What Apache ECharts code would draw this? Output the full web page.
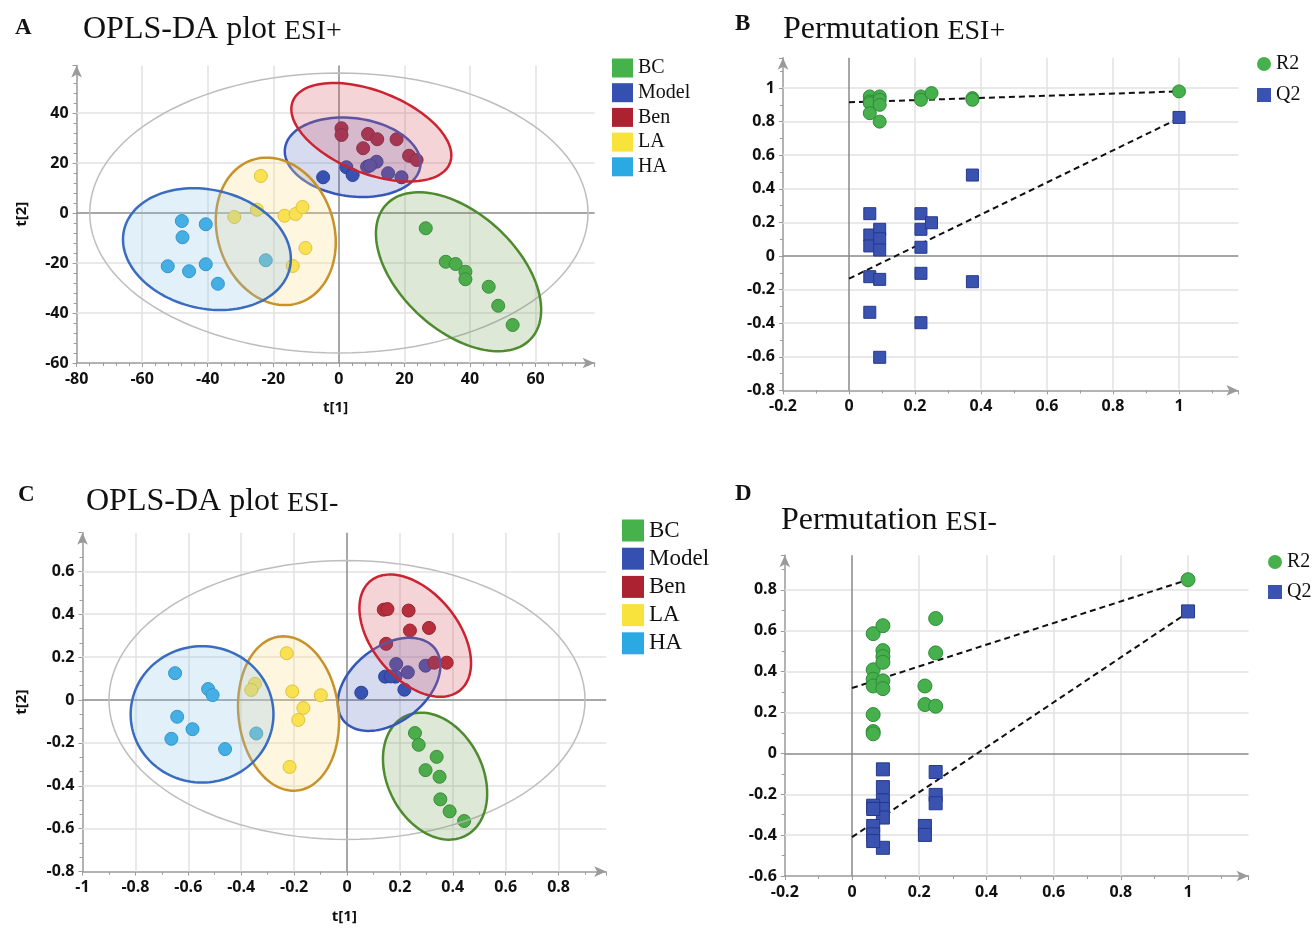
<!DOCTYPE html>
<html>
<head>
<meta charset="utf-8">
<script src="https://cdn.jsdelivr.net/npm/echarts@6/dist/echarts.min.js"></script>
<style>
html,body{margin:0;padding:0;background:#fff;}
#main{width:1315px;height:928px;}
</style>
</head>
<body>
<div id="main"></div>
<script>
// ---------------- DATA ----------------
const groups = ['BC', 'Model', 'Ben', 'LA', 'HA'];
const groupColors = ['#45b24c', '#3550b0', '#ad2230', '#f8e23c', '#2ba9e2'];
const groupBorders = ['#2f8a38', '#23388a', '#7e1520', '#d2b81e', '#1a86bd'];

// Panel A (OPLS-DA ESI+) scores t[1], t[2]
const aBC = [[26.5,-6.1],[32.6,-19.5],[35.6,-20.4],[38.6,-23.5],[38.6,-26.5],[45.7,-29.5],[48.6,-37.1],[53.0,-44.8]];
const aModel = [[-4.8,14.3],[2.3,18.3],[4.2,15.2],[8.6,18.5],[11.5,20.5],[15.0,15.9],[19.1,14.3],[9.5,19.0]];
const aBen = [[0.8,33.9],[0.8,31.2],[8.9,31.6],[11.7,29.5],[17.6,29.5],[7.4,25.9],[21.4,22.9],[23.7,21.2]];
const aLA = [[-23.8,14.8],[-25.0,1.3],[-31.9,-1.6],[-16.6,-1.1],[-13.2,-0.4],[-11.1,2.4],[-10.2,-14.0],[-14.1,-21.2]];
const aHA = [[-47.9,-3.2],[-40.6,-4.5],[-47.7,-9.7],[-52.2,-21.3],[-45.7,-23.3],[-40.6,-20.5],[-36.9,-28.3],[-22.3,-18.9]];
// confidence ellipses: [centre x, centre y, half-width x, half-height y, tilt correlation]
const aEllipses = [[36.5,-23.5,25.2,31.8,-0.48],[4.2,22.3,20.7,15.9,-0.15],[9.9,32.3,24.4,19.7,-0.47],[-19.25,-7.35,18.3,29.5,-0.15],[-40.25,-14.45,25.6,24.35,-0.16]];
const aHotelling = [0, 0, 76, 56, 0];
const aXTicks = [-80,-60,-40,-20,0,20,40,60];
const aYTicks = [-60,-40,-20,0,20,40];

// Panel B (Permutation ESI+)
const bR2 = [[0.063,0.95],[0.063,0.92],[0.063,0.91],[0.063,0.85],[0.093,0.95],[0.093,0.93],[0.093,0.90],[0.093,0.80],[0.218,0.95],[0.218,0.93],[0.25,0.97],[0.374,0.94],[0.374,0.93],[1,0.98]];
const bQ2 = [[0.063,0.252],[0.063,0.125],[0.063,0.06],[0.093,0.159],[0.093,0.103],[0.093,0.036],[0.063,-0.123],[0.093,-0.139],[0.063,-0.335],[0.093,-0.603],[0.218,0.252],[0.218,0.159],[0.25,0.198],[0.218,0.052],[0.218,-0.103],[0.218,-0.397],[0.374,0.482],[0.374,-0.153],[1,0.825]];
const bR2Fit = [[0,0.915],[1,0.98]];
const bQ2Fit = [[0,-0.135],[1,0.82]];
const bXTicks = [-0.2,0,0.2,0.4,0.6,0.8,1];
const bYTicks = [-0.8,-0.6,-0.4,-0.2,0,0.2,0.4,0.6,0.8,1];

// Panel C (OPLS-DA ESI-)
const cBC = [[0.257,-0.154],[0.271,-0.209],[0.339,-0.265],[0.297,-0.327],[0.35,-0.358],[0.353,-0.463],[0.388,-0.519],[0.443,-0.564]];
const cModel = [[0.054,0.034],[0.144,0.109],[0.183,0.109],[0.217,0.048],[0.186,0.168],[0.23,0.129],[0.297,0.16],[0.165,0.11]];
const cBen = [[0.139,0.421],[0.153,0.424],[0.233,0.417],[0.238,0.324],[0.31,0.336],[0.148,0.262],[0.33,0.174],[0.377,0.174]];
const cLA = [[-0.228,0.218],[-0.348,0.075],[-0.362,0.047],[-0.207,0.04],[-0.099,0.022],[-0.165,-0.037],[-0.184,-0.093],[-0.217,-0.312]];
const cHA = [[-0.65,0.125],[-0.525,0.051],[-0.508,0.023],[-0.642,-0.078],[-0.584,-0.136],[-0.664,-0.181],[-0.461,-0.229],[-0.343,-0.156]];
const cEllipses = [[0.333,-0.355,0.197,0.296,-0.27],[0.159,0.073,0.194,0.217,0.4],[0.258,0.30,0.211,0.285,-0.45],[-0.221,-0.063,0.191,0.36,-0.1],[-0.548,-0.067,0.27,0.318,0.0]];
const cHotelling = [0, 0, 0.9, 0.65, 0];
const cXTicks = [-1,-0.8,-0.6,-0.4,-0.2,0,0.2,0.4,0.6,0.8];
const cYTicks = [-0.8,-0.6,-0.4,-0.2,0,0.2,0.4,0.6];

// Panel D (Permutation ESI-)
const dR2 = [[0.063,0.586],[0.063,0.409],[0.063,0.363],[0.063,0.33],[0.063,0.19],[0.063,0.107],[0.063,0.096],[0.092,0.625],[0.092,0.503],[0.092,0.474],[0.092,0.446],[0.092,0.355],[0.092,0.317],[0.217,0.33],[0.217,0.239],[0.249,0.66],[0.249,0.492],[0.249,0.231],[1,0.85]];
const dQ2 = [[0.092,-0.078],[0.092,-0.165],[0.092,-0.231],[0.092,-0.272],[0.092,-0.314],[0.092,-0.462],[0.063,-0.256],[0.063,-0.272],[0.063,-0.355],[0.063,-0.396],[0.063,-0.429],[0.217,-0.355],[0.217,-0.399],[0.249,-0.091],[0.249,-0.203],[0.249,-0.244],[1,0.695]];
const dR2Fit = [[0,0.32],[1,0.85]];
const dQ2Fit = [[0,-0.41],[1,0.69]];
const dXTicks = [-0.2,0,0.2,0.4,0.6,0.8,1];
const dYTicks = [-0.6,-0.4,-0.2,0,0.2,0.4,0.6,0.8];

// ---------------- STYLE ----------------
const ellStroke = ['#4e8a2e', '#3656b8', '#cc2331', '#c8922a', '#3a6cc0'];
const ellFill = ['rgba(105,150,75,0.22)', 'rgba(70,90,185,0.22)', 'rgba(215,85,95,0.25)', 'rgba(252,222,140,0.28)', 'rgba(140,195,235,0.25)'];
const SANS = "'Open Sans', 'DejaVu Sans', sans-serif";
const SERIF = "'Liberation Serif', 'Times New Roman', serif";
const LABEL_SIZE = 16;

function inTicks(ticks, v) {
  for (const t of ticks) if (Math.abs(t - v) < 1e-6) return true;
  return false;
}
function axisDef(isY, idx, min, max, interval, ticks, minorSplit, name, nameGap) {
  const ax = {
    gridIndex: idx, type: 'value', min: min, max: max, interval: interval,
    name: name || '', nameLocation: 'middle', nameGap: nameGap || 30,
    nameTextStyle: { fontFamily: SANS, fontWeight: 'bold', fontSize: 15, color: '#111' },
    axisLine: { show: true, onZero: false, symbol: ['none', 'arrow'], symbolSize: [8, 12], lineStyle: { color: '#9a9a9a', width: 1.5 } },
    axisTick: { show: true, length: 4, inside: false, lineStyle: { color: '#9a9a9a' } },
    minorTick: { show: true, splitNumber: minorSplit, length: 3, lineStyle: { color: '#9a9a9a' } },
    splitLine: { show: false },
    axisLabel: { fontFamily: SANS, fontWeight: 'bold', fontSize: LABEL_SIZE, color: '#111', margin: 8, showMaxLabel: false,
      formatter: function (v) { return inTicks(ticks, v) ? String(+v.toFixed(2)) : ''; } }
  };
  if (isY) ax.nameRotate = 90;
  return ax;
}
function gridSeries(idx, xs, ys) {
  const lines = [];
  xs.forEach(function (v) { if (Math.abs(v) > 1e-9) lines.push({ xAxis: v, lineStyle: { color: '#e2e2e2', width: 1.5, type: 'solid' } }); });
  ys.forEach(function (v) { if (Math.abs(v) > 1e-9) lines.push({ yAxis: v, lineStyle: { color: '#e2e2e2', width: 1.5, type: 'solid' } }); });
  lines.push({ xAxis: 0, lineStyle: { color: '#8a8a8a', width: 1.5, type: 'solid' } });
  lines.push({ yAxis: 0, lineStyle: { color: '#8a8a8a', width: 1.5, type: 'solid' } });
  return {
    type: 'line', xAxisIndex: idx, yAxisIndex: idx, data: [], silent: true, z: 1,
    markLine: { z: 1, silent: true, symbol: ['none', 'none'], label: { show: false }, animation: false, data: lines }
  };
}
function ellipseSeries(idx, e, stroke, fill, width) {
  return {
    type: 'custom', xAxisIndex: idx, yAxisIndex: idx, silent: true, z: 4, data: [e],
    dimensions: ['cx', 'cy', 'rx', 'ry', 'rho'], encode: { x: 0, y: 1 },
    renderItem: function (params, api) {
      const cx = api.value(0), cy = api.value(1), rx = api.value(2), ry = api.value(3), r = api.value(4);
      const s = Math.sqrt(1 - r * r);
      const pts = [];
      for (let k = 0; k < 120; k++) {
        const t = 2 * Math.PI * k / 120;
        pts.push(api.coord([cx + rx * Math.cos(t), cy + ry * (r * Math.cos(t) + s * Math.sin(t))]));
      }
      return { type: 'polygon', shape: { points: pts }, style: { fill: fill, stroke: stroke, lineWidth: width } };
    }
  };
}
function scatterSeries(idx, name, data, color, border, symbol, size) {
  return {
    type: 'scatter', name: name, xAxisIndex: idx, yAxisIndex: idx, data: data, z: 3,
    symbol: symbol || 'circle', symbolSize: size || 13,
    itemStyle: { color: color, borderColor: border, borderWidth: 1, opacity: 1 }
  };
}
function fitSeries(idx, data) {
  return {
    type: 'line', xAxisIndex: idx, yAxisIndex: idx, data: data, z: 2, silent: true, symbol: 'none',
    lineStyle: { color: '#111', width: 2, type: [6, 4] }
  };
}

const series = [];
series.push(gridSeries(0, aXTicks.slice(1), aYTicks.slice(1)));
series.push(gridSeries(1, bXTicks.slice(1), bYTicks.slice(1)));
series.push(gridSeries(2, cXTicks.slice(1), cYTicks.slice(1)));
series.push(gridSeries(3, dXTicks.slice(1), dYTicks.slice(1)));

const aData = [aBC, aModel, aBen, aLA, aHA];
const cData = [cBC, cModel, cBen, cLA, cHA];
groups.forEach(function (g, i) {
  series.push(scatterSeries(0, g, aData[i], groupColors[i], groupBorders[i]));
  series.push(scatterSeries(2, g, cData[i], groupColors[i], groupBorders[i]));
});
series.push(ellipseSeries(0, aHotelling, '#bdbdbd', 'none', 1.5));
series.push(ellipseSeries(2, cHotelling, '#bdbdbd', 'none', 1.5));
groups.forEach(function (g, i) {
  series.push(ellipseSeries(0, aEllipses[i], ellStroke[i], ellFill[i], 2.5));
  series.push(ellipseSeries(2, cEllipses[i], ellStroke[i], ellFill[i], 2.5));
});

series.push(fitSeries(1, bR2Fit));
series.push(fitSeries(1, bQ2Fit));
series.push(fitSeries(3, dR2Fit));
series.push(fitSeries(3, dQ2Fit));
series.push(scatterSeries(1, 'R2', bR2, '#46b04c', '#2f8a38', 'circle', 13));
series.push(scatterSeries(1, 'Q2', bQ2, '#3a52b0', '#26398a', 'rect', 12));
series.push(scatterSeries(3, 'R2', dR2, '#46b04c', '#2f8a38', 'circle', 14));
series.push(scatterSeries(3, 'Q2', dQ2, '#3a52b0', '#26398a', 'rect', 13));

function titleDef(left, top, letter, main, sub) {
  return [
    { left: left[0], top: top[0], text: letter, textStyle: { fontFamily: SERIF, fontWeight: 'bold', fontSize: 23, color: '#111' } },
    { left: left[1], top: top[1], text: '{m|' + main + '}{s|' + sub + '}',
      textStyle: { fontWeight: 'normal', rich: {
        m: { fontFamily: SERIF, fontWeight: 'normal', fontSize: 32, color: '#111' },
        s: { fontFamily: SERIF, fontWeight: 'normal', fontSize: 28, color: '#111', verticalAlign: 'bottom' } } } }
  ];
}

const legendCommon = { selectedMode: false, itemStyle: { borderWidth: 0 } };
const option = {
  animation: false,
  backgroundColor: '#fff',
  title: [].concat(
    titleDef([10, 78], [12, 9], 'A', 'OPLS-DA plot ', 'ESI+'),
    titleDef([730, 778], [8, 9], 'B', 'Permutation ', 'ESI+'),
    titleDef([13, 81], [479, 481], 'C', 'OPLS-DA plot ', 'ESI-'),
    titleDef([730, 776], [478, 500], 'D', 'Permutation ', 'ESI-')
  ),
  legend: [
    Object.assign({ left: 607, top: 53, orient: 'vertical', itemWidth: 21, itemHeight: 19, itemGap: 4.7,
      data: groups.map(function (g) { return { name: g, icon: 'rect' }; }),
      textStyle: { fontFamily: SERIF, fontSize: 20, color: '#111' } }, legendCommon),
    Object.assign({ left: 617, top: 514, orient: 'vertical', itemWidth: 22, itemHeight: 22, itemGap: 5.2,
      data: groups.map(function (g) { return { name: g, icon: 'rect' }; }),
      textStyle: { fontFamily: SERIF, fontSize: 23, color: '#111' } }, legendCommon),
    Object.assign({ left: 1252, top: 49, orient: 'vertical', itemWidth: 14, itemHeight: 14, itemGap: 11,
      data: [{ name: 'R2', icon: 'circle' }, { name: 'Q2', icon: 'rect' }],
      textStyle: { fontFamily: SERIF, fontSize: 20, color: '#111' } }, legendCommon),
    Object.assign({ left: 1263, top: 547, orient: 'vertical', itemWidth: 14, itemHeight: 14, itemGap: 10,
      data: [{ name: 'R2', icon: 'circle' }, { name: 'Q2', icon: 'rect' }],
      textStyle: { fontFamily: SERIF, fontSize: 20, color: '#111' } }, legendCommon)
  ],
  grid: [
    { left: 76.6, top: 65.5, width: 518, height: 297.5 },
    { left: 783, top: 57.8, width: 455.4, height: 332.6 },
    { left: 82.5, top: 532.7, width: 523.7, height: 338.9 },
    { left: 784.8, top: 555.2, width: 463.7, height: 320.8 }
  ],
  xAxis: [
    axisDef(false, 0, -80, 78, 20, aXTicks, 5, 't[1]', 37),
    axisDef(false, 1, -0.2, 1.18, 0.2, bXTicks, 2),
    axisDef(false, 2, -1, 0.98, 0.2, cXTicks, 2, 't[1]', 38),
    axisDef(false, 3, -0.2, 1.18, 0.2, dXTicks, 2)
  ],
  yAxis: [
    axisDef(true, 0, -60, 59, 20, aYTicks, 5, 't[2]', 47),
    axisDef(true, 1, -0.8, 1.18, 0.2, bYTicks, 2),
    axisDef(true, 2, -0.8, 0.78, 0.2, cYTicks, 3, 't[2]', 53),
    axisDef(true, 3, -0.6, 0.97, 0.2, dYTicks, 2)
  ],
  series: series
};

const chart = echarts.init(document.getElementById('main'), null, { renderer: 'canvas' });
chart.setOption(option);
</script>
</body>
</html>
